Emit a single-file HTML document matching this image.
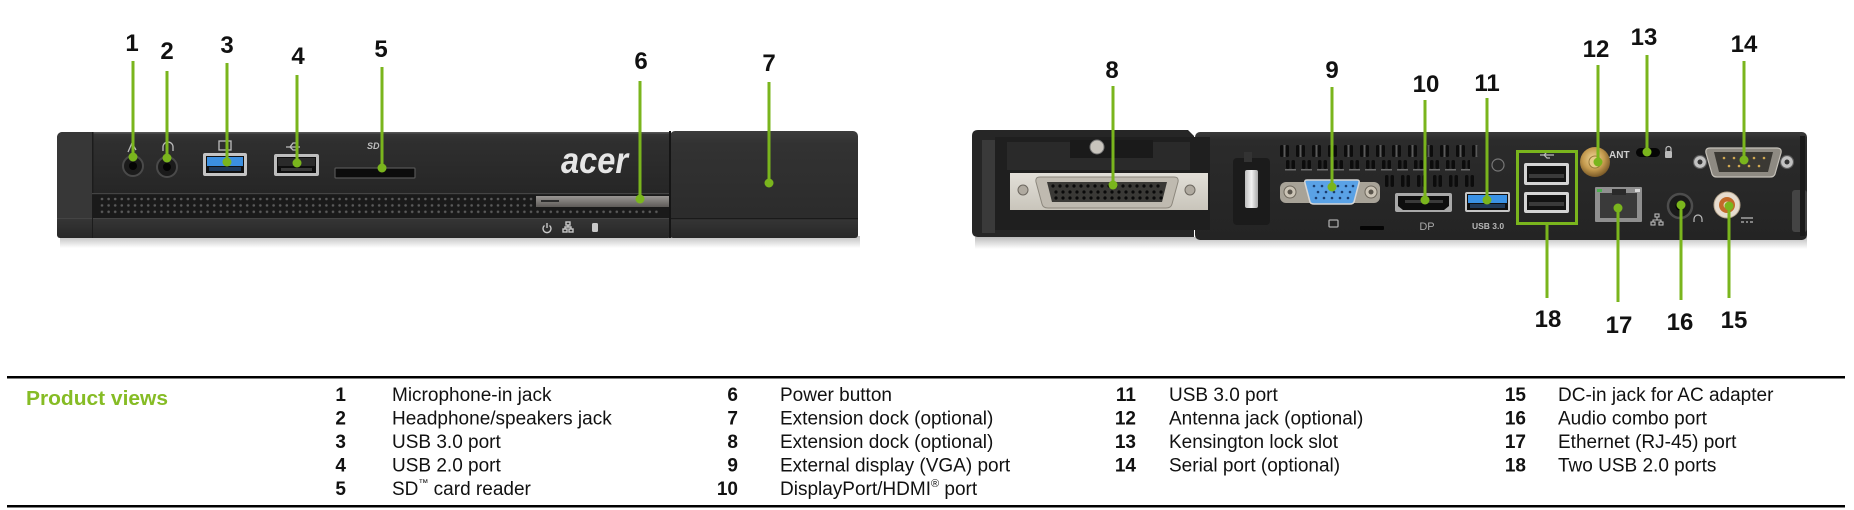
<!DOCTYPE html>
<html>
<head>
<meta charset="utf-8">
<style>
  html,body{margin:0;padding:0;background:#fff;}
  body{width:1854px;height:510px;overflow:hidden;position:relative;}
  svg{position:absolute;left:0;top:0;}
</style>
</head>
<body>
<svg width="1854" height="510" viewBox="0 0 1854 510" xmlns="http://www.w3.org/2000/svg">
  <defs>
    <linearGradient id="topface" x1="0" y1="0" x2="0" y2="1">
      <stop offset="0" stop-color="#3a3a3a"/>
      <stop offset="0.15" stop-color="#2f2f2f"/>
      <stop offset="1" stop-color="#262626"/>
    </linearGradient>
    <linearGradient id="dockface" x1="0" y1="0" x2="0" y2="1">
      <stop offset="0" stop-color="#3c3c3c"/>
      <stop offset="0.12" stop-color="#323232"/>
      <stop offset="1" stop-color="#2a2a2a"/>
    </linearGradient>
    <linearGradient id="band" x1="0" y1="0" x2="0" y2="1">
      <stop offset="0" stop-color="#363636"/>
      <stop offset="1" stop-color="#272727"/>
    </linearGradient>
    <linearGradient id="shadow" x1="0" y1="0" x2="0" y2="1">
      <stop offset="0" stop-color="#bdbdbd"/>
      <stop offset="1" stop-color="#ffffff"/>
    </linearGradient>
    <linearGradient id="pbtn" x1="0" y1="0" x2="0" y2="1">
      <stop offset="0" stop-color="#9a9794"/>
      <stop offset="1" stop-color="#5e5b58"/>
    </linearGradient>
    <linearGradient id="rearbody" x1="0" y1="0" x2="0" y2="1">
      <stop offset="0" stop-color="#3a3a3a"/>
      <stop offset="0.08" stop-color="#2b2b2b"/>
      <stop offset="1" stop-color="#242424"/>
    </linearGradient>
    <linearGradient id="plate" x1="0" y1="0" x2="0" y2="1">
      <stop offset="0" stop-color="#e2dfd8"/>
      <stop offset="1" stop-color="#c9c5bb"/>
    </linearGradient>
    <linearGradient id="latch" x1="0" y1="0" x2="1" y2="0">
      <stop offset="0" stop-color="#bdbdbd"/>
      <stop offset="0.5" stop-color="#f2f2f2"/>
      <stop offset="1" stop-color="#a8a8a8"/>
    </linearGradient>
    <radialGradient id="gold" cx="0.45" cy="0.4" r="0.6">
      <stop offset="0" stop-color="#f0d89a"/>
      <stop offset="0.6" stop-color="#c49a4e"/>
      <stop offset="1" stop-color="#7a5a28"/>
    </radialGradient>
    <pattern id="grille" x="99" y="196" width="6.6" height="6.4" patternUnits="userSpaceOnUse">
      <circle cx="3" cy="3" r="1.3" fill="#5a5a5a"/>
    </pattern>
    <pattern id="vent1" x="1278" y="145" width="16" height="14" patternUnits="userSpaceOnUse">
      <rect x="2" y="0" width="3.5" height="12" rx="1.5" fill="#0c0c0c"/>
      <rect x="7.5" y="0" width="3.5" height="12" rx="1.5" fill="#0c0c0c"/>
      <rect x="5.5" y="0" width="2" height="12" fill="#5a5a5a"/>
    </pattern>
    <pattern id="vent2" x="1284" y="160" width="16" height="12" patternUnits="userSpaceOnUse">
      <rect x="2" y="0" width="3.5" height="9" rx="1.5" fill="#0c0c0c"/>
      <rect x="7.5" y="0" width="3.5" height="9" rx="1.5" fill="#0c0c0c"/>
      <rect x="1" y="9" width="11" height="1.5" fill="#6a6a6a"/>
    </pattern>
    <pattern id="vent3" x="1383" y="175" width="16" height="14" patternUnits="userSpaceOnUse">
      <rect x="2" y="0" width="3.5" height="12" rx="1.5" fill="#0c0c0c"/>
      <rect x="7.5" y="0" width="3.5" height="12" rx="1.5" fill="#0c0c0c"/>
    </pattern>
  </defs>

  <!-- ================= FRONT DEVICE ================= -->
  <rect x="60" y="236" width="800" height="12" fill="url(#shadow)"/>
  <!-- main body -->
  <rect x="57" y="132" width="614" height="106" rx="5" fill="#2b2b2b"/>
  <rect x="92" y="132" width="578" height="61" fill="url(#topface)"/>
  <rect x="92" y="132" width="578" height="1.5" fill="#555"/>
  <!-- left cap -->
  <rect x="57" y="132" width="36" height="106" rx="6" fill="#373737"/>
  <rect x="88" y="132" width="5" height="106" fill="#373737"/>
  <rect x="92" y="132" width="1.5" height="86" fill="#1c1c1c"/>
  <!-- grille -->
  <rect x="92" y="193" width="578" height="25" fill="#1a1a1a"/>
  <rect x="92" y="193" width="578" height="1.2" fill="#444"/>
  <rect x="99" y="196" width="562" height="20" fill="url(#grille)"/>
  <!-- bottom band -->
  <rect x="57" y="218" width="614" height="20" rx="3" fill="url(#band)"/>
  <rect x="57" y="218" width="614" height="1" fill="#444"/>
  <rect x="92" y="218" width="1" height="20" fill="#1c1c1c"/>
  <!-- power button bar -->
  <rect x="536" y="196" width="133" height="11" fill="url(#pbtn)"/>
  <rect x="541" y="200" width="18" height="2" fill="#2c2c2c"/>
  <!-- indicators -->
  <g stroke="#c8c8c8" stroke-width="1.4" fill="none">
    <path d="M544.5 225.5 A4 4 0 1 0 549.5 225.5"/>
    <line x1="547" y1="223" x2="547" y2="228"/>
    <rect x="566" y="222" width="4" height="3"/>
    <rect x="563" y="229" width="4" height="3"/>
    <rect x="569" y="229" width="4" height="3"/>
    <path d="M568 225 V227 M565 229 V227 H571 V229"/>
  </g>
  <rect x="592" y="223" width="6" height="9" rx="1.5" fill="#c8c8c8"/>
  <!-- acer logo -->
  <text x="561" y="173" font-family="Liberation Sans, sans-serif" font-size="37" font-weight="bold" font-style="italic" fill="#e6e6e6" textLength="67" lengthAdjust="spacingAndGlyphs">acer</text>

  <!-- ports -->
  <circle cx="133" cy="166" r="10" fill="#1b1b1b" stroke="#4a4a4a" stroke-width="2"/>
  <circle cx="133" cy="166" r="4" fill="#050505"/>
  <circle cx="167" cy="167" r="10" fill="#1b1b1b" stroke="#4a4a4a" stroke-width="2"/>
  <circle cx="167" cy="167" r="4" fill="#050505"/>
  <!-- usb3 -->
  <rect x="203" y="153" width="44" height="23" rx="2" fill="#c4c4c4"/>
  <rect x="206" y="156" width="38" height="17" fill="#101010"/>
  <rect x="207" y="157" width="36" height="9" fill="#3b8fe0"/>
  <rect x="209" y="167" width="32" height="4" fill="#1f3a5a"/>
  <!-- usb2 -->
  <rect x="274" y="154" width="45" height="22" rx="2" fill="#bdbdbd"/>
  <rect x="277" y="157" width="39" height="16" fill="#0e0e0e"/>
  <rect x="278" y="158" width="37" height="8" fill="#2a2a2a"/>
  <rect x="281" y="168" width="31" height="3" fill="#3a3a3a"/>
  <!-- sd -->
  <rect x="335" y="168" width="80" height="10" rx="1" fill="#0c0c0c" stroke="#555" stroke-width="1.2"/>
  <!-- port icons -->
  <g stroke="#bdbdbd" stroke-width="1.3" fill="none">
    <path d="M128 152 L132 143 L136 150"/>
    <path d="M163 151 V147 A5 5 0 0 1 173 147 V151"/>
    <rect x="219" y="141" width="12" height="9"/>
    <path d="M286 147 H300 M290 147 L293 143 H296 M290 147 L293 150 H296"/>
  </g>
  <text x="367" y="149" font-family="Liberation Sans, sans-serif" font-size="9" font-weight="bold" font-style="italic" fill="#bdbdbd">SD</text>

  <!-- dock (front) -->
  <rect x="670" y="131" width="188" height="107" rx="5" fill="url(#dockface)"/>
  <rect x="670" y="218" width="188" height="20" rx="3" fill="url(#band)"/>
  <rect x="670" y="218" width="188" height="1.2" fill="#1a1a1a"/>
  <rect x="669" y="131" width="2" height="107" fill="#151515"/>

  <!-- ================= REAR DEVICE ================= -->
  <rect x="975" y="237" width="832" height="12" fill="url(#shadow)"/>
  <!-- main body -->
  <rect x="1195" y="132" width="612" height="108" rx="5" fill="url(#rearbody)"/>
  <rect x="1792" y="190" width="15" height="42" rx="3" fill="#444"/>
  <rect x="1800" y="136" width="5" height="100" fill="#1a1a1a"/>
  <!-- dock -->
  <path d="M978 130 H1188 L1194 136 V237 H978 Q972 237 972 231 V136 Q972 130 978 130 Z" fill="#262626"/>
  <rect x="982" y="140" width="13" height="93" fill="#3a3a3a"/>
  <rect x="995" y="137" width="215" height="93" fill="#1f1f1f"/>
  <path d="M1007 142 H1070 V158 H1153 V142 H1190 V170 H1007 Z" fill="#2a2a2a"/>
  <rect x="1070" y="140" width="83" height="18" fill="#1a1a1a"/>
  <circle cx="1097" cy="147" r="7" fill="#c8c4bd" stroke="#777" stroke-width="1"/>
  <!-- silver plate -->
  <rect x="1010" y="173" width="198" height="37" fill="url(#plate)"/>
  <circle cx="1023" cy="190" r="5" fill="#b0aaa0" stroke="#6d6860" stroke-width="1"/>
  <circle cx="1190" cy="190" r="5" fill="#b0aaa0" stroke="#6d6860" stroke-width="1"/>
  <path d="M1040 177 H1174 Q1179 177 1178 182 L1172 204 Q1171 208 1166 208 H1048 Q1043 208 1042 204 L1036 182 Q1035 177 1040 177 Z" fill="#bfbab0" stroke="#8c877d" stroke-width="1"/>
  <path d="M1047 182 H1167 L1162 202 H1052 Z" fill="#3a3936"/>
  <g fill="#0a0a0a">
    <!-- hole rows -->
    <g id="r1">
      <circle cx="1053" cy="186" r="1.6"/><circle cx="1060" cy="186" r="1.6"/><circle cx="1067" cy="186" r="1.6"/><circle cx="1074" cy="186" r="1.6"/><circle cx="1081" cy="186" r="1.6"/><circle cx="1088" cy="186" r="1.6"/><circle cx="1095" cy="186" r="1.6"/><circle cx="1102" cy="186" r="1.6"/><circle cx="1109" cy="186" r="1.6"/><circle cx="1116" cy="186" r="1.6"/><circle cx="1123" cy="186" r="1.6"/><circle cx="1130" cy="186" r="1.6"/><circle cx="1137" cy="186" r="1.6"/><circle cx="1144" cy="186" r="1.6"/><circle cx="1151" cy="186" r="1.6"/><circle cx="1158" cy="186" r="1.6"/>
    </g>
    <use href="#r1" x="3" y="6"/>
    <use href="#r1" x="3" y="12"/>
  </g>
  <!-- latch -->
  <rect x="1233" y="158" width="37" height="67" rx="4" fill="#1b1b1b"/>
  <rect x="1245" y="170" width="13" height="38" rx="2" fill="url(#latch)"/>
  <rect x="1244" y="152" width="8" height="10" fill="#333"/>
  <!-- vents -->
  <rect x="1278" y="145" width="200" height="13" fill="url(#vent1)"/>
  <rect x="1284" y="160" width="186" height="11" fill="url(#vent2)"/>
  <rect x="1383" y="175" width="96" height="13" fill="url(#vent3)"/>
  <circle cx="1498" cy="165" r="6" fill="none" stroke="#777" stroke-width="1.2"/>
  <!-- VGA -->
  <rect x="1280" y="182" width="100" height="21" rx="6" fill="#a8a398"/>
  <circle cx="1290" cy="192" r="6" fill="#cbc4b6" stroke="#6d675c" stroke-width="1"/>
  <circle cx="1290" cy="192" r="2.5" fill="#5a554c"/>
  <circle cx="1371" cy="192" r="6" fill="#cbc4b6" stroke="#6d675c" stroke-width="1"/>
  <circle cx="1371" cy="192" r="2.5" fill="#5a554c"/>
  <path d="M1307 180 H1357 Q1360 180 1359 183 L1354 202 Q1353 204 1350 204 H1314 Q1311 204 1310 202 L1305 183 Q1304 180 1307 180 Z" fill="#5aa2e6" stroke="#d6d6d6" stroke-width="1.5"/>
  <g fill="#1b3d6e">
    <circle cx="1314" cy="186" r="1.3"/><circle cx="1322" cy="186" r="1.3"/><circle cx="1330" cy="186" r="1.3"/><circle cx="1338" cy="186" r="1.3"/><circle cx="1346" cy="186" r="1.3"/><circle cx="1353" cy="186" r="1.3"/>
    <circle cx="1318" cy="192" r="1.3"/><circle cx="1326" cy="192" r="1.3"/><circle cx="1334" cy="192" r="1.3"/><circle cx="1342" cy="192" r="1.3"/><circle cx="1350" cy="192" r="1.3"/>
    <circle cx="1316" cy="198" r="1.3"/><circle cx="1324" cy="198" r="1.3"/><circle cx="1332" cy="198" r="1.3"/><circle cx="1340" cy="198" r="1.3"/><circle cx="1348" cy="198" r="1.3"/>
  </g>
  <rect x="1329" y="220" width="9" height="7" rx="1" fill="none" stroke="#aaa" stroke-width="1.3"/>
  <rect x="1360" y="226" width="24" height="4" rx="1" fill="#050505"/>
  <!-- DP -->
  <rect x="1395" y="193" width="57" height="19" rx="2" fill="#a9a9a9"/>
  <path d="M1398 196 H1449 V206 L1444 210 H1403 L1398 206 Z" fill="#0e0e0e"/>
  <rect x="1405" y="200" width="38" height="3" fill="#3a3a3a"/>
  <text x="1427" y="230" font-family="Liberation Sans, sans-serif" font-size="11" fill="#a8a8a8" text-anchor="middle">DP</text>
  <!-- USB3 rear -->
  <rect x="1465" y="192" width="45" height="20" rx="2" fill="#c6c6c6"/>
  <rect x="1467" y="194" width="41" height="16" fill="#0f0f0f"/>
  <rect x="1468" y="195" width="39" height="8" fill="#3a92e6"/>
  <rect x="1470" y="204" width="35" height="4" fill="#1f3a5a"/>
  <text x="1488" y="229" font-family="Liberation Sans, sans-serif" font-size="8.5" font-weight="bold" fill="#b8b8b8" text-anchor="middle">USB 3.0</text>
  <!-- USB2 pair -->
  <rect x="1524" y="163" width="45" height="22" rx="2" fill="#d4d4d4"/>
  <rect x="1527" y="166" width="39" height="16" fill="#121212"/>
  <rect x="1529" y="174" width="35" height="4" fill="#3a3a3a"/>
  <rect x="1524" y="192" width="45" height="21" rx="2" fill="#d4d4d4"/>
  <rect x="1527" y="195" width="39" height="15" fill="#121212"/>
  <rect x="1529" y="202" width="35" height="4" fill="#3a3a3a"/>
  <path d="M1540 155 H1554 M1544 155 L1547 152 H1550 M1544 155 L1547 158 H1550" stroke="#bbb" stroke-width="1.2" fill="none"/>
  <!-- antenna -->
  <circle cx="1595" cy="162" r="15" fill="url(#gold)"/>
  <circle cx="1595" cy="162" r="6" fill="#e6cc86" stroke="#9a7a3a" stroke-width="1"/>
  <text x="1609" y="158" font-family="Liberation Sans, sans-serif" font-size="10" font-weight="bold" fill="#cfcfcf">ANT</text>
  <!-- kensington -->
  <rect x="1636" y="148" width="24" height="9" rx="4.5" fill="#050505"/>
  <rect x="1665" y="151" width="7" height="7" rx="1" fill="#bbb"/>
  <path d="M1666 151 V149 A2.5 2.5 0 0 1 1671 149 V151" stroke="#bbb" stroke-width="1.2" fill="none"/>
  <!-- serial -->
  <circle cx="1700" cy="162" r="6.5" fill="#c2c2c2" stroke="#5a5a5a" stroke-width="1.2"/>
  <circle cx="1700" cy="162" r="2.5" fill="#333"/>
  <circle cx="1787" cy="162" r="6.5" fill="#c2c2c2" stroke="#5a5a5a" stroke-width="1.2"/>
  <circle cx="1787" cy="162" r="2.5" fill="#333"/>
  <path d="M1710 148 H1777 Q1782 148 1781 153 L1775 174 Q1774 177 1770 177 H1717 Q1713 177 1712 174 L1706 153 Q1705 148 1710 148 Z" fill="#8e8a82" stroke="#c4c0b8" stroke-width="1.2"/>
  <path d="M1714 152 H1773 L1768 172 H1719 Z" fill="#3b3934"/>
  <g fill="#d0a850">
    <circle cx="1724" cy="158" r="1.3"/><circle cx="1734" cy="158" r="1.3"/><circle cx="1744" cy="158" r="1.3"/><circle cx="1754" cy="158" r="1.3"/><circle cx="1764" cy="158" r="1.3"/>
    <circle cx="1729" cy="166" r="1.3"/><circle cx="1739" cy="166" r="1.3"/><circle cx="1749" cy="166" r="1.3"/><circle cx="1759" cy="166" r="1.3"/>
  </g>
  <!-- RJ45 -->
  <rect x="1595" y="187" width="47" height="35" rx="1" fill="#8f8f8f"/>
  <rect x="1600" y="193" width="37" height="25" fill="#3a3a3a"/>
  <rect x="1612" y="189" width="14" height="6" fill="#2a2a2a"/>
  <rect x="1597" y="189" width="5" height="3" fill="#4caf50"/>
  <rect x="1635" y="189" width="5" height="3" fill="#d8d8d8"/>
  <g stroke="#bbb" stroke-width="1.1" fill="none">
    <rect x="1655" y="214" width="4" height="3"/>
    <rect x="1651" y="222" width="4" height="3"/>
    <rect x="1659" y="222" width="4" height="3"/>
    <path d="M1657 217 V220 M1653 222 V220 H1661 V222"/>
  </g>
  <!-- audio combo -->
  <circle cx="1680" cy="206" r="12" fill="#1a1a1a" stroke="#4d4d4d" stroke-width="2.5"/>
  <circle cx="1680" cy="206" r="4.5" fill="#030303"/>
  <path d="M1694 222 V219 A4 4 0 0 1 1702 219 V222" stroke="#bbb" stroke-width="1.2" fill="none"/>
  <!-- DC in -->
  <circle cx="1727" cy="205" r="13" fill="#e6dccf" stroke="#b8a890" stroke-width="1"/>
  <circle cx="1727" cy="205" r="8" fill="#c26a2a"/>
  <circle cx="1727" cy="205" r="3.5" fill="#e8d6b8"/>
  <path d="M1741 218 H1753 M1741 222 H1744 M1746 222 H1748 M1750 222 H1753" stroke="#bbb" stroke-width="1.3"/>

  <!-- green box around USB pair -->
  <rect x="1517.5" y="151.5" width="59" height="72" fill="none" stroke="#7ab51d" stroke-width="3"/>

  <!-- ================= CALLOUTS ================= -->
  <g stroke="#7ab51d" stroke-width="3">
    <line x1="133" y1="61" x2="133" y2="157"/>
    <line x1="167" y1="71" x2="167" y2="158"/>
    <line x1="227" y1="63" x2="227" y2="162"/>
    <line x1="297" y1="75" x2="297" y2="163"/>
    <line x1="382" y1="67" x2="382" y2="168"/>
    <line x1="640" y1="81" x2="640" y2="199"/>
    <line x1="769" y1="82" x2="769" y2="183"/>
    <line x1="1113" y1="86" x2="1113" y2="185"/>
    <line x1="1332" y1="87" x2="1332" y2="187"/>
    <line x1="1425" y1="100" x2="1425" y2="200"/>
    <line x1="1487" y1="98" x2="1487" y2="200"/>
    <line x1="1598" y1="65" x2="1598" y2="162"/>
    <line x1="1647" y1="55" x2="1647" y2="152"/>
    <line x1="1744" y1="61" x2="1744" y2="160"/>
    <line x1="1547" y1="224" x2="1547" y2="298"/>
    <line x1="1618" y1="208" x2="1618" y2="302"/>
    <line x1="1681" y1="205" x2="1681" y2="300"/>
    <line x1="1729" y1="206" x2="1729" y2="298"/>
  </g>
  <g fill="#7ab51d">
    <circle cx="133" cy="157" r="4.5"/>
    <circle cx="167" cy="158" r="4.5"/>
    <circle cx="227" cy="162" r="4.5"/>
    <circle cx="297" cy="163" r="4.5"/>
    <circle cx="382" cy="168" r="4.5"/>
    <circle cx="640" cy="199" r="4.5"/>
    <circle cx="769" cy="183" r="4.5"/>
    <circle cx="1113" cy="185" r="4.5"/>
    <circle cx="1332" cy="187" r="4.5"/>
    <circle cx="1425" cy="200" r="4.5"/>
    <circle cx="1487" cy="200" r="4.5"/>
    <circle cx="1598" cy="162" r="4.5"/>
    <circle cx="1647" cy="152" r="4.5"/>
    <circle cx="1744" cy="160" r="4.5"/>
    <circle cx="1618" cy="208" r="4.5"/>
    <circle cx="1681" cy="205" r="4.5"/>
    <circle cx="1729" cy="206" r="4.5"/>
  </g>
  <g font-family="Liberation Sans, sans-serif" font-size="24" font-weight="bold" fill="#111" text-anchor="middle">
    <text x="132" y="51">1</text>
    <text x="167" y="59">2</text>
    <text x="227" y="53">3</text>
    <text x="298" y="64">4</text>
    <text x="381" y="57">5</text>
    <text x="641" y="69">6</text>
    <text x="769" y="71">7</text>
    <text x="1112" y="78">8</text>
    <text x="1332" y="78">9</text>
    <text x="1426" y="92">10</text>
    <text x="1487" y="91">11</text>
    <text x="1596" y="57">12</text>
    <text x="1644" y="45">13</text>
    <text x="1744" y="52">14</text>
    <text x="1548" y="327">18</text>
    <text x="1619" y="333">17</text>
    <text x="1680" y="330">16</text>
    <text x="1734" y="328">15</text>
  </g>

  <!-- ================= TABLE ================= -->
  <rect x="7" y="376" width="1838" height="2.5" fill="#000"/>
  <rect x="7" y="505" width="1838" height="2.5" fill="#000"/>
  <text x="26" y="405" font-family="Liberation Sans, sans-serif" font-size="20" font-weight="bold" fill="#86bc25" textLength="142" lengthAdjust="spacingAndGlyphs">Product views</text>

  <g font-family="Liberation Sans, sans-serif" font-size="19" font-weight="bold" fill="#111" text-anchor="end">
    <text x="346" y="401">1</text>
    <text x="346" y="424.5">2</text>
    <text x="346" y="448">3</text>
    <text x="346" y="471.5">4</text>
    <text x="346" y="495">5</text>
    <text x="738" y="401">6</text>
    <text x="738" y="424.5">7</text>
    <text x="738" y="448">8</text>
    <text x="738" y="471.5">9</text>
    <text x="738" y="495">10</text>
    <text x="1136" y="401">11</text>
    <text x="1136" y="424.5">12</text>
    <text x="1136" y="448">13</text>
    <text x="1136" y="471.5">14</text>
    <text x="1526" y="401">15</text>
    <text x="1526" y="424.5">16</text>
    <text x="1526" y="448">17</text>
    <text x="1526" y="471.5">18</text>
  </g>
  <g font-family="Liberation Sans, sans-serif" font-size="19" fill="#111">
    <text x="392" y="401">Microphone-in jack</text>
    <text x="392" y="424.5">Headphone/speakers jack</text>
    <text x="392" y="448">USB 3.0 port</text>
    <text x="392" y="471.5">USB 2.0 port</text>
    <text x="392" y="495">SD<tspan font-size="10" dy="-9">™</tspan><tspan dy="9"> card reader</tspan></text>
    <text x="780" y="401">Power button</text>
    <text x="780" y="424.5">Extension dock (optional)</text>
    <text x="780" y="448">Extension dock (optional)</text>
    <text x="780" y="471.5">External display (VGA) port</text>
    <text x="780" y="495">DisplayPort/HDMI<tspan font-size="11" dy="-8">®</tspan><tspan dy="8"> port</tspan></text>
    <text x="1169" y="401">USB 3.0 port</text>
    <text x="1169" y="424.5">Antenna jack (optional)</text>
    <text x="1169" y="448">Kensington lock slot</text>
    <text x="1169" y="471.5">Serial port (optional)</text>
    <text x="1558" y="401">DC-in jack for AC adapter</text>
    <text x="1558" y="424.5">Audio combo port</text>
    <text x="1558" y="448">Ethernet (RJ-45) port</text>
    <text x="1558" y="471.5">Two USB 2.0 ports</text>
  </g>
</svg>
</body>
</html>
